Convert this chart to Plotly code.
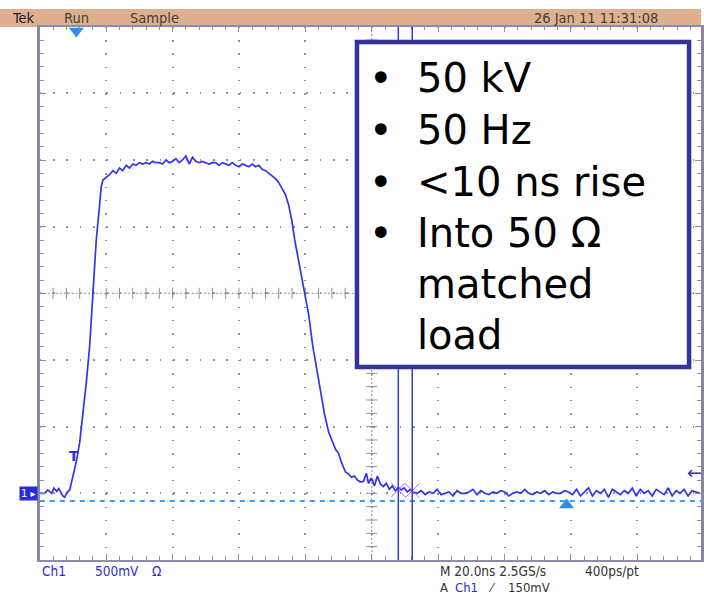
import plotly.graph_objects as go

# ---------------- data (time in ns, amplitude in V; 20 ns/div, 500 mV/div) ----------------
pre_t = [-100, -98.5, -97.6, -96.4, -95.8, -94.9, -94.3, -93.1, -92.5, -91.9]
pre_v = [0.0, 0.0, 0.025, 0.0, 0.04, 0.015, 0.035, -0.02, -0.03, 0.005]

rise_t = [-91.0, -90.0, -89.0, -88.0, -87.0, -86.0, -85.0, -84.0, -83.0, -82.0, -81.5, -81.0, -80.0]
rise_v = [0.025, 0.13, 0.24, 0.38, 0.60, 0.83, 1.10, 1.50, 1.90, 2.16, 2.30, 2.35, 2.37]

top_v = [2.39, 2.42, 2.40, 2.44, 2.42, 2.46, 2.44, 2.47, 2.46, 2.48,
         2.47, 2.48, 2.47, 2.49, 2.48, 2.48, 2.47, 2.50, 2.48, 2.49,
         2.51, 2.48, 2.50, 2.53, 2.47, 2.52, 2.49, 2.48, 2.49, 2.48,
         2.47, 2.48, 2.48, 2.46, 2.48, 2.47, 2.46, 2.48, 2.46, 2.45,
         2.47, 2.46, 2.45, 2.47, 2.45, 2.46, 2.43, 2.42, 2.40, 2.38,
         2.36, 2.33, 2.29]
top_t = [-79 + i for i in range(len(top_v))]

fall_t = [-26.0, -25.0, -24.1, -23.2, -22.0, -21.1, -20.2, -19.0, -17.8, -16.6,
          -15.4, -14.2, -13.0, -11.8, -10.9, -10.0]
fall_v = [2.24, 2.16, 2.05, 1.90, 1.74, 1.60, 1.49, 1.34, 1.11, 0.93,
          0.74, 0.59, 0.46, 0.38, 0.33, 0.30]

tail_t = [-9.1, -7.9, -7.0, -6.1, -5.2, -4.3, -3.4, -2.5, -1.6, -1.0, -0.1, 0.8, 1.7,
          2.6, 3.5, 4.4, 5.3, 6.2, 7.1, 8.0, 8.9, 9.8, 10.7, 11.6, 12.5]
tail_v = [0.23, 0.16, 0.145, 0.12, 0.13, 0.10, 0.085, 0.09, 0.15, 0.075, 0.115, 0.055, 0.13,
          0.07, 0.05, 0.075, 0.03, 0.055, 0.02, 0.045, 0.025, 0.04, 0.01, 0.03, 0.01]

base_v = [0.00, 0.02, -0.01, 0.01, 0.00, 0.03, -0.01, 0.00, 0.01, -0.02,
          0.02, 0.00, 0.00, 0.01, 0.03, -0.01, 0.02, 0.00, -0.01, 0.01,
          0.00, 0.02, 0.01, -0.02, 0.00, 0.01, 0.00, 0.03, 0.00, -0.01,
          0.01, 0.00, 0.02, -0.01, 0.01, 0.00, 0.00, 0.02, 0.01, -0.01,
          0.03, -0.02, 0.01, 0.04, -0.02, 0.02, 0.00, 0.03, -0.03, 0.03,
          0.01, -0.01, 0.02, 0.00, 0.04, -0.02, 0.03, 0.00, 0.02, -0.02,
          0.03, 0.01, -0.01, 0.04, -0.02, 0.02, 0.00, 0.03, -0.02, 0.02,
          0.01, 0.00]
base_t = [round(13.7 + 1.2 * i, 1) for i in range(len(base_v))]

trace_t = pre_t + rise_t + top_t + fall_t + tail_t + base_t
trace_v = pre_v + rise_v + top_v + fall_v + tail_v + base_v

cursor_t = [8.0, 12.2]
cursor_mark_v = [0.025, 0.02]
ref_level_v = -0.058
trig_pos = (-89.0, 3.467)
trig_level_mark = (58.7, -0.088)

bullets = ["50 kV", "50 Hz", "<10 ns rise", "Into 50 Ω", "matched", "load"]
has_bullet = [True, True, True, True, False, False]
line_y_px = [78, 130, 182, 233, 284, 335]

T_RANGE = [-100, 99.2]
V_RANGE = [-0.5, 3.5]

W, H = 704, 595
def px(x):
    return x / W
def py(y):
    return 1 - y / H

GRID = "#8e8ea6"
BLUE = "#3434ec"
SCOPE_FONT = "Liberation Sans Narrow, DejaVu Sans Condensed, Liberation Sans, Arial"

fig = go.Figure()

# center cross tick marks (decoration from grid spacing)
cx_ticks = [T_RANGE[0] + 4 * i for i in range(1, 50)]
cy_ticks = [round(V_RANGE[0] + 0.1 * i, 2) for i in range(1, 40)]
fig.add_trace(go.Scatter(x=cx_ticks, y=[1.5] * len(cx_ticks), mode="markers",
                         marker=dict(symbol="line-ns", size=8, line=dict(width=1, color=GRID)),
                         hoverinfo="skip"))
fig.add_trace(go.Scatter(x=[0] * len(cy_ticks), y=cy_ticks, mode="markers",
                         marker=dict(symbol="line-ew", size=8, line=dict(width=1, color=GRID)),
                         hoverinfo="skip"))

# waveform
fig.add_trace(go.Scatter(x=trace_t, y=trace_v, mode="lines",
                         line=dict(color=BLUE, width=1.7), hoverinfo="skip"))

# cursor crossing marks
fig.add_trace(go.Scatter(x=cursor_t, y=cursor_mark_v, mode="markers",
                         marker=dict(symbol="x-thin-open", size=14, line=dict(width=1, color="#5a5ae8")),
                         hoverinfo="skip"))

# trigger position / level markers
fig.add_trace(go.Scatter(x=[trig_pos[0]], y=[trig_pos[1]], mode="markers", cliponaxis=False,
                         marker=dict(symbol="triangle-down", size=13, color="#2e8fea"),
                         hoverinfo="skip"))
fig.add_trace(go.Scatter(x=[trig_level_mark[0]], y=[trig_level_mark[1]], mode="markers", cliponaxis=False,
                         marker=dict(symbol="triangle-up", size=13, color="#2e8fea"),
                         hoverinfo="skip"))

shapes = []
# top status bar
shapes.append(dict(type="rect", xref="paper", yref="paper", x0=0, x1=1, y0=py(27), y1=py(9),
                   fillcolor="#dfb08f", line=dict(width=0), layer="below"))
# center cross lines
shapes.append(dict(type="line", xref="x", yref="y", x0=T_RANGE[0], x1=T_RANGE[1], y0=1.5, y1=1.5,
                   line=dict(color=GRID, width=1, dash="2px,2px"), layer="below"))
shapes.append(dict(type="line", xref="x", yref="y", x0=0, x1=0, y0=V_RANGE[0], y1=V_RANGE[1],
                   line=dict(color=GRID, width=1, dash="2px,2px"), layer="below"))
# reference level dashed line
shapes.append(dict(type="line", xref="x", yref="y", x0=T_RANGE[0], x1=T_RANGE[1],
                   y0=ref_level_v, y1=ref_level_v,
                   line=dict(color="#3d9df2", width=2, dash="5px,5px"), layer="above"))
# cursors
for ct in cursor_t:
    shapes.append(dict(type="line", xref="x", yref="y", x0=ct, x1=ct, y0=V_RANGE[0], y1=V_RANGE[1],
                       line=dict(color="#3a3ac8", width=1.5), layer="above"))
# text box
shapes.append(dict(type="rect", xref="paper", yref="paper", x0=px(358.5), x1=px(692), y0=py(367), y1=py(42),
                   fillcolor="white", line=dict(color="#333399", width=4.5), layer="above"))

ann = []
def txt(x, y, s, size, color, anchor="left", family=SCOPE_FONT, **kw):
    ann.append(dict(x=px(x), y=py(y), xref="paper", yref="paper", text=s, showarrow=False,
                    xanchor=anchor, yanchor="middle",
                    font=dict(family=family, size=size, color=color), **kw))

txt(10, 18, "Tek", 14.5, "#1a1a1a")
txt(62, 18, "Run", 14.5, "#404040")
txt(129, 18, "Sample", 14.5, "#404040")
txt(663, 18, "26 Jan 11 11:31:08", 14.5, "#404040", anchor="right")

txt(40, 571, "Ch1", 13.5, "#2a2ae0")
txt(93, 571, "500mV", 13.5, "#2a2ae0")
txt(151, 571, "Ω", 13.5, "#2a2ae0")
txt(440, 571, "M 20.0ns 2.5GS/s", 13.5, "#333333")
txt(585, 571, "400ps/pt", 13.5, "#333333")
txt(440, 587, "A", 13, "#333333")
txt(455, 587, "Ch1", 13, "#2a2ae0")
txt(488, 587, "⁄", 13, "#333333")
txt(508, 587, "150mV", 13, "#333333")

# ground marker, trigger arrow, T marker
ann.append(dict(x=px(29), y=py(493), xref="paper", yref="paper", text="1 ▸", showarrow=False,
                xanchor="center", yanchor="middle", bgcolor="#2b2bd8", borderpad=1,
                font=dict(family="DejaVu Sans", size=10, color="white")))
txt(697, 473, "←", 18, "#3232c8", anchor="center", family="DejaVu Sans")
txt(74, 456, "<b>T</b>", 14, "#3030d0", anchor="center", family="DejaVu Sans")

# box text
for s, b, yy in zip(bullets, has_bullet, line_y_px):
    if b:
        txt(383, yy, "•", 40, "black", anchor="center", family="DejaVu Sans")
    txt(417, yy, s, 40, "black", family="DejaVu Sans")

fig.update_layout(
    width=W, height=H, margin=dict(l=0, r=0, t=0, b=0),
    paper_bgcolor="white", plot_bgcolor="white", showlegend=False,
    shapes=shapes, annotations=ann,
    xaxis=dict(domain=[40 / W, 1], range=T_RANGE, showticklabels=False, zeroline=False,
               tick0=-100, dtick=20, showgrid=True, gridcolor=GRID, gridwidth=1.5,
               griddash="1.5px,11.83px", showline=True, linecolor="#8c8cb0", linewidth=1.5,
               mirror="allticks", ticks="inside", ticklen=6, tickcolor=GRID,
               minor=dict(tick0=-100, dtick=4, ticks="inside", ticklen=4, tickcolor=GRID, showgrid=False)),
    yaxis=dict(domain=[py(560), py(26.67)], range=V_RANGE, showticklabels=False, zeroline=False,
               tick0=-0.5, dtick=0.5, showgrid=True, gridcolor=GRID, gridwidth=1.5,
               griddash="1.5px,11.83px", showline=True, linecolor="#8888a0", linewidth=2.5,
               mirror="allticks", ticks="inside", ticklen=6, tickcolor=GRID,
               minor=dict(tick0=-0.5, dtick=0.1, ticks="inside", ticklen=4, tickcolor=GRID, showgrid=False)),
)

fig.write_html("out.html")
